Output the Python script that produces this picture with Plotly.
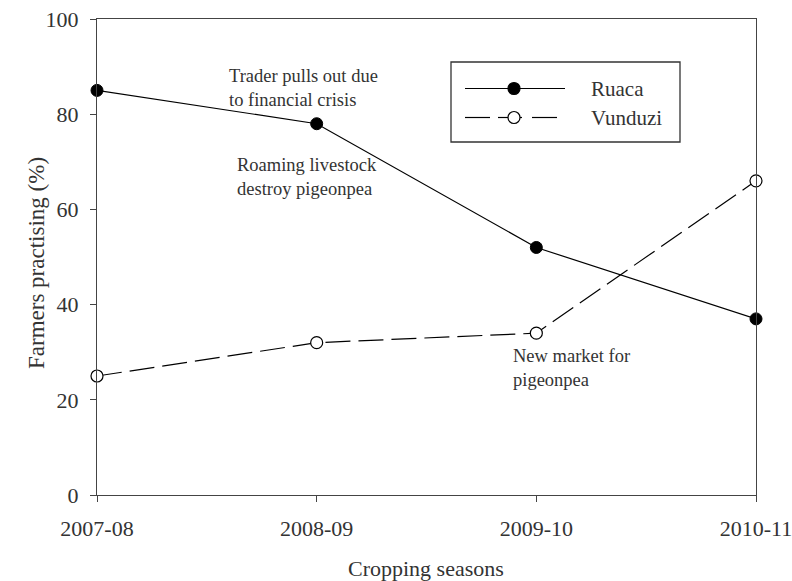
import plotly.graph_objects as go

# Seasons and percentage of farmers practising, per site
seasons = ["2007-08", "2008-09", "2009-10", "2010-11"]
ruaca = [85, 78, 52, 37]
vunduzi = [25, 32, 34, 66]

# Event notes
note_text = [
    "Trader pulls out due<br>to financial crisis",
    "Roaming livestock<br>destroy pigeonpea",
    "New market for<br>pigeonpea",
]

W, H = 792, 581
ML, MR, MT, MB = 97, 36, 19, 86
PW, PH = W - ML - MR, H - MT - MB

def px(x):
    return (x - ML) / PW

def py(y):
    return (H - MB - y) / PH

FONT = "Liberation Serif, Times New Roman, serif"
TXT = "#333333"
DASH = "25px,8px"

fig = go.Figure()
fig.add_trace(go.Scatter(
    x=seasons, y=ruaca, name="Ruaca", mode="lines+markers",
    line=dict(color="black", width=1.2),
    marker=dict(symbol="circle", size=12, color="black", line=dict(color="black", width=1)),
    cliponaxis=False, showlegend=False,
))
fig.add_trace(go.Scatter(
    x=seasons, y=vunduzi, name="Vunduzi", mode="lines+markers",
    line=dict(color="black", width=1.2, dash=DASH),
    marker=dict(symbol="circle", size=12, color="white", line=dict(color="black", width=1.2)),
    cliponaxis=False, showlegend=False,
))

axis_common = dict(
    showline=True, linecolor="#444444", linewidth=1.3, mirror=True,
    ticks="outside", ticklen=6, tickwidth=1.3, tickcolor="#444444",
    showgrid=False, zeroline=False, automargin=False,
    tickfont=dict(family=FONT, size=22, color=TXT),
)

fig.update_xaxes(**axis_common, type="category", range=[0, 3], ticklabelstandoff=7)
fig.update_yaxes(**axis_common, range=[0, 100], tickvals=[0, 20, 40, 60, 80, 100],
                 ticklabelstandoff=7)

annotations = [
    dict(x=px(426), y=py(568), xref="paper", yref="paper", text="Cropping seasons",
         showarrow=False, xanchor="center", yanchor="middle",
         font=dict(family=FONT, size=22, color=TXT)),
    dict(x=px(36), y=py(263), xref="paper", yref="paper", text="Farmers practising (%)",
         showarrow=False, xanchor="center", yanchor="middle", textangle=-90,
         font=dict(family=FONT, size=23, color=TXT)),
]

note_pos = [(227, 87.5), (235, 176.5), (511, 368)]
for (ax, ay), t in zip(note_pos, note_text):
    annotations.append(dict(
        x=px(ax), y=py(ay), xref="paper", yref="paper", text=t, showarrow=False,
        xanchor="left", yanchor="middle", align="left",
        font=dict(family=FONT, size=18.5, color=TXT),
    ))

# Legend box drawn by hand so the sample lines are long
shapes = [dict(type="rect", xref="paper", yref="paper",
               x0=px(451), x1=px(680), y0=py(142), y1=py(62),
               line=dict(color="#333333", width=1.3), fillcolor="white", layer="below")]
leg_rows = [
    ("Ruaca", 88.5, [(465, 565)], "black"),
    ("Vunduzi", 117.5, [(465, 490), (498, 522), (532, 557)], "white"),
]
for name, ly, segs, fill in leg_rows:
    for sx0, sx1 in segs:
        shapes.append(dict(type="line", xref="paper", yref="paper",
                           x0=px(sx0), x1=px(sx1), y0=py(ly), y1=py(ly),
                           line=dict(color="black", width=1.2)))
    shapes.append(dict(type="circle", xref="paper", yref="paper",
                       xsizemode="pixel", ysizemode="pixel",
                       xanchor=px(514), yanchor=py(ly),
                       x0=-6, x1=6, y0=-6, y1=6,
                       line=dict(color="black", width=1.2), fillcolor=fill))
    annotations.append(dict(
        x=px(589), y=py(ly), xref="paper", yref="paper", text=name, showarrow=False,
        xanchor="left", yanchor="middle",
        font=dict(family=FONT, size=21, color=TXT),
    ))

fig.update_layout(
    width=W, height=H,
    margin=dict(l=ML, r=MR, t=MT, b=MB),
    paper_bgcolor="white", plot_bgcolor="white",
    shapes=shapes, annotations=annotations,
    showlegend=False,
)

fig.write_html("out.html")
